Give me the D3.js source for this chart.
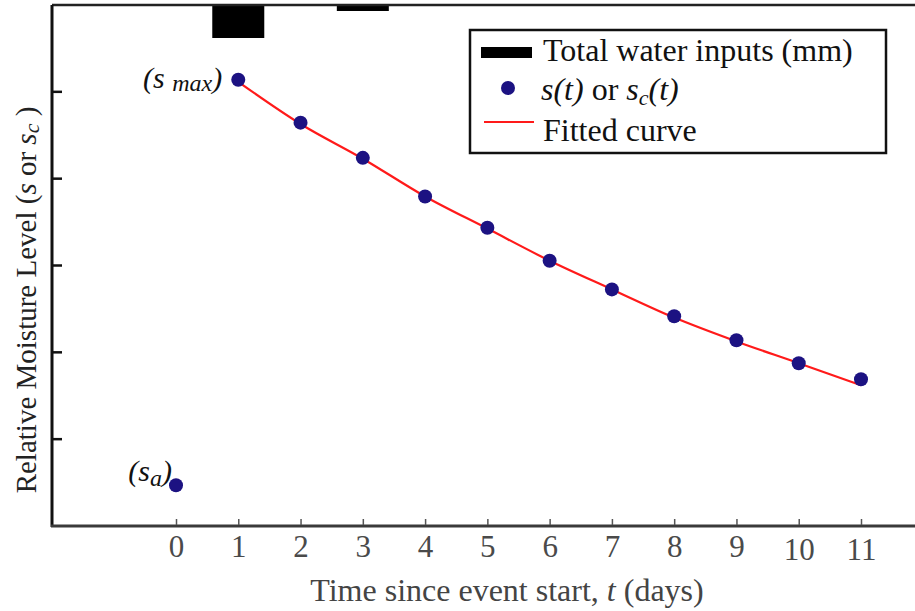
<!DOCTYPE html>
<html>
<head>
<meta charset="utf-8">
<script src="https://cdn.jsdelivr.net/npm/d3@7"></script>
<style>
  body { margin: 0; background: #fff; }
  svg { display: block; font-family: "Liberation Serif", "DejaVu Serif", serif; }
</style>
</head>
<body>
<div id="chart"></div>
<script>
// data
var days = [0, 1, 2, 3, 4, 5, 6, 7, 8, 9, 10, 11];
var moisture = [0.094, 1.028, 0.929, 0.848, 0.759, 0.687, 0.611, 0.545, 0.483, 0.428, 0.375, 0.338];
var fitDays = [1, 2, 3, 4, 5, 6, 7, 8, 9, 10, 11];
var fitted = [1.023, 0.926, 0.846, 0.759, 0.685, 0.611, 0.545, 0.480, 0.425, 0.375, 0.324];
var rainDays = [1, 3];
var rainMm = [33, 6];
var yTicks = [0.2, 0.4, 0.6, 0.8, 1.0];

var W = 915, H = 611;
var plotLeft = 52, plotTop = 5, plotBottom = 526, plotRight = 915;

var svg = d3.select("#chart").append("svg")
  .attr("width", W)
  .attr("height", H);

var x = d3.scaleLinear().domain([0, 11]).range([176, 861]);
var y = d3.scaleLinear().domain([0, 1.2]).range([plotBottom, plotTop]);
// water inputs hang from the top border
var yRain = d3.scaleLinear().domain([0, 100]).range([0, 100]);

// rain bars
svg.selectAll(".rain")
  .data(rainDays)
  .enter().append("rect")
  .attr("x", function(d) { return x(d) - 26; })
  .attr("y", plotTop)
  .attr("width", 52)
  .attr("height", function(d, i) { return yRain(rainMm[i]); })
  .attr("fill", "#000");

// frame: top and left
svg.append("line")
  .attr("x1", plotLeft).attr("x2", plotRight)
  .attr("y1", plotTop).attr("y2", plotTop)
  .attr("stroke", "#222").attr("stroke-width", 2.5);

svg.append("line")
  .attr("x1", plotLeft).attr("x2", plotLeft)
  .attr("y1", plotTop).attr("y2", plotBottom + 1)
  .attr("stroke", "#111").attr("stroke-width", 3);

// y ticks (inward, no labels)
svg.selectAll(".ytick")
  .data(yTicks)
  .enter().append("line")
  .attr("x1", plotLeft).attr("x2", plotLeft + 10)
  .attr("y1", function(d) { return y(d); })
  .attr("y2", function(d) { return y(d); })
  .attr("stroke", "#111").attr("stroke-width", 2.5);

// x axis
svg.append("line")
  .attr("x1", plotLeft - 1).attr("x2", plotRight)
  .attr("y1", plotBottom).attr("y2", plotBottom)
  .attr("stroke", "#3a3a3a").attr("stroke-width", 3);

var xAxis = svg.append("g")
  .attr("transform", "translate(0," + plotBottom + ")")
  .call(d3.axisBottom(x).tickValues(days).tickSize(0).tickPadding(0).tickFormat(d3.format("d")));
xAxis.select(".domain").remove();
xAxis.selectAll(".tick line").remove();
xAxis.selectAll(".tick").append("line")
  .attr("y1", -1).attr("y2", -7)
  .attr("stroke", "#555").attr("stroke-width", 1.5);
xAxis.selectAll(".tick text")
  .attr("y", function(d) { return d >= 10 ? 34 : 31; })
  .attr("dy", null)
  .attr("font-size", 31)
  .attr("font-family", "Liberation Serif")
  .attr("fill", "#4a4a4a");

// fitted curve
svg.append("path")
  .datum(fitDays)
  .attr("fill", "none")
  .attr("stroke", "#ff1a1a")
  .attr("stroke-width", 2.2)
  .attr("d", d3.line()
    .curve(d3.curveMonotoneX)
    .x(function(d) { return x(d); })
    .y(function(d, i) { return y(fitted[i]); }));

// observed points
svg.selectAll(".pt")
  .data(days)
  .enter().append("circle")
  .attr("cx", function(d) { return x(d); })
  .attr("cy", function(d, i) { return y(moisture[i]); })
  .attr("r", 7)
  .attr("fill", "#1c1282");

// point annotations
var smax = svg.append("text")
  .attr("x", x(1) - 16).attr("y", y(moisture[1]) + 8)
  .attr("text-anchor", "end")
  .attr("font-size", 30).attr("font-style", "italic").attr("fill", "#111");
smax.append("tspan").text("(s ");
smax.append("tspan").attr("font-size", 24).attr("dy", 3).text("max");
smax.append("tspan").attr("dy", -3).text(")");

var sa = svg.append("text")
  .attr("x", x(0) - 4).attr("y", y(moisture[0]) - 4)
  .attr("text-anchor", "end")
  .attr("font-size", 30).attr("font-style", "italic").attr("fill", "#111");
sa.append("tspan").text("(s");
sa.append("tspan").attr("font-size", 24).attr("dy", 5).text("a");
sa.append("tspan").attr("dy", -5).text(")");

// axis titles
var xt = svg.append("text")
  .attr("x", 507).attr("y", 601)
  .attr("text-anchor", "middle")
  .attr("font-size", 32).attr("fill", "#444");
xt.append("tspan").text("Time since event start, ");
xt.append("tspan").attr("font-style", "italic").text("t");
xt.append("tspan").text(" (days)");

var yt = svg.append("text")
  .attr("transform", "translate(36,300) rotate(-90)")
  .attr("text-anchor", "middle")
  .attr("font-size", 29).attr("fill", "#222");
yt.append("tspan").text("Relative Moisture Level (");
yt.append("tspan").attr("font-style", "italic").text("s");
yt.append("tspan").text(" or ");
yt.append("tspan").attr("font-style", "italic").text("s");
yt.append("tspan").attr("font-style", "italic").attr("font-size", 22).attr("dy", 3).text("c");
yt.append("tspan").attr("dy", -3).text(" )");

// legend
var lg = svg.append("g");
lg.append("rect")
  .attr("x", 470).attr("y", 30)
  .attr("width", 416).attr("height", 123)
  .attr("fill", "#fff").attr("stroke", "#111").attr("stroke-width", 2.5);

lg.append("rect")
  .attr("x", 481).attr("y", 47)
  .attr("width", 51).attr("height", 11)
  .attr("fill", "#000");
lg.append("text")
  .attr("x", 543).attr("y", 61)
  .attr("font-size", 32).attr("fill", "#111")
  .text("Total water inputs (mm)");

lg.append("circle")
  .attr("cx", 508).attr("cy", 88).attr("r", 7)
  .attr("fill", "#1c1282");
var l2 = lg.append("text")
  .attr("x", 541).attr("y", 100)
  .attr("font-size", 32).attr("fill", "#111");
l2.append("tspan").attr("font-style", "italic").text("s(t)");
l2.append("tspan").text(" or ");
l2.append("tspan").attr("font-style", "italic").text("s");
l2.append("tspan").attr("font-style", "italic").attr("font-size", 22).attr("dy", 5).text("c");
l2.append("tspan").attr("font-style", "italic").attr("dy", -5).text("(t)");

lg.append("line")
  .attr("x1", 484).attr("x2", 534)
  .attr("y1", 122).attr("y2", 122)
  .attr("stroke", "#ff1a1a").attr("stroke-width", 2);
lg.append("text")
  .attr("x", 543).attr("y", 141)
  .attr("font-size", 32).attr("fill", "#111")
  .text("Fitted curve");
</script>
</body>
</html>
